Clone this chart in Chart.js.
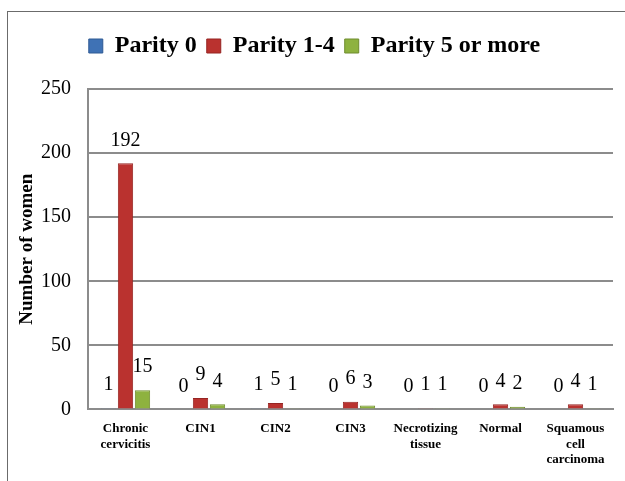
<!DOCTYPE html>
<html>
<head>
<meta charset="utf-8">
<script src="https://cdn.jsdelivr.net/npm/chart.js@4.4.1/dist/chart.umd.min.js"></script>
<style>
    body { margin: 0; background: #fff; overflow: hidden; }
    #wrap { position: relative; width: 625px; height: 481px; }
    #frame { position: absolute; left: 7px; top: 11px; width: 700px; height: 600px; border: 1px solid #6b6b6b; }
    canvas { position: absolute; left: 0; top: 0; }
</style>
</head>
<body>
<div id="wrap">
    <div id="frame"></div>
    <canvas id="chart" width="625" height="481"></canvas>
</div>
<script>
// categories and values
const categories = [
    ['Chronic', 'cervicitis'],
    'CIN1',
    'CIN2',
    'CIN3',
    ['Necrotizing', 'tissue'],
    'Normal',
    ['Squamous', 'cell', 'carcinoma']
];
const parity0 = [1, 0, 1, 0, 0, 0, 0];
const parity1to4 = [192, 9, 5, 6, 1, 4, 4];
const parity5plus = [15, 4, 1, 3, 1, 2, 1];
const yTicks = [0, 50, 100, 150, 200, 250];

const serif = "'Liberation Serif', 'Times New Roman', serif";

//draws the number above each bar
const barLabels = {
    id: 'barLabels',
    afterDatasetsDraw(chart) {
        const ctx = chart.ctx;
        ctx.save();
        ctx.font = '20px ' + serif;
        ctx.fillStyle = '#000';
        ctx.textAlign = 'center';
        ctx.textBaseline = 'bottom';
        chart.data.datasets.forEach(function (ds, i) {
            const meta = chart.getDatasetMeta(i);
            meta.data.forEach(function (bar, j) {
                ctx.fillText(String(ds.data[j]), bar.x, bar.y - 13);
            });
        });
        ctx.restore();
    }
};

//more room between the legend and the plot
const legendSpace = {
    id: 'legendSpace',
    beforeInit(chart) {
        const legend = chart.legend;
        const fit = legend.fit;
        legend.fit = function () {
            fit.call(legend);
            legend.height = 65;
        };
    }
};

new Chart(document.getElementById('chart'), {
    type: 'bar',
    data: {
        labels: categories,
        datasets: [
            { label: 'Parity 0', data: parity0, backgroundColor: '#3F72B5', borderColor: '#2E5A94', borderWidth: 1 },
            { label: 'Parity 1-4', data: parity1to4, backgroundColor: '#BA322F', borderColor: '#962523', borderWidth: 1 },
            { label: 'Parity 5 or more', data: parity5plus, backgroundColor: '#8EB23F', borderColor: '#6F8C2E', borderWidth: 1 }
        ]
    },
    options: {
        responsive: false,
        animation: false,
        layout: { padding: { top: 24, right: 12, bottom: 2, left: 16 } },
        categoryPercentage: 0.68,
        barPercentage: 0.9,
        plugins: {
            legend: {
                position: 'top',
                labels: {
                    color: '#000',
                    boxWidth: 14,
                    boxHeight: 14,
                    padding: 10,
                    font: { family: serif, size: 24, weight: 'bold' }
                }
            },
            tooltip: { enabled: false }
        },
        scales: {
            x: {
                grid: { display: false, drawTicks: false },
                border: { color: '#8c8c8c', width: 2 },
                ticks: {
                    color: '#000',
                    padding: 11,
                    maxRotation: 0,
                    autoSkip: false,
                    font: { family: serif, size: 13, weight: 'bold', lineHeight: 1.22 }
                }
            },
            y: {
                min: 0,
                max: 250,
                afterBuildTicks: function (axis) {
                    axis.ticks = yTicks.map(function (v) { return { value: v }; });
                },
                afterFit: function (axis) {
                    axis.width = 72;
                },
                grid: { color: '#8c8c8c', lineWidth: 2, drawTicks: false },
                border: { color: '#8c8c8c', width: 2 },
                ticks: {
                    color: '#000',
                    padding: 17,
                    font: { family: serif, size: 20 }
                },
                title: {
                    display: true,
                    text: 'Number of women',
                    color: '#000',
                    padding: 0,
                    font: { family: serif, size: 19, weight: 'bold' }
                }
            }
        }
    },
    plugins: [barLabels, legendSpace]
});
</script>
</body>
</html>
